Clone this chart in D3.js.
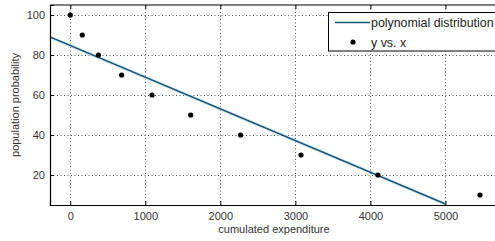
<!DOCTYPE html>
<html><head><meta charset="utf-8">
<script src="https://cdn.jsdelivr.net/npm/d3@7"></script>
<style>body{margin:0;background:#fff}svg{display:block}</style>
</head><body>
<svg id="c" width="495" height="241"></svg>
<script>
const xs = [0, 160, 375, 685, 1090, 1605, 2270, 3075, 4100, 5460];
const ys = [100, 90, 80, 70, 60, 50, 40, 30, 20, 10];
const fitX = [-270, 5000];
const fitY = [89, 5.5];
const xTicks = [0, 1000, 2000, 3000, 4000, 5000];
const yTicks = [20, 40, 60, 80, 100];
const legendLabels = ["polynomial distribution", "y vs. x"];

const svg = d3.select("#c");
const L = 50, T = 5, B = 205, R = 498;
const x = d3.scaleLinear().domain([-270, 5700]).range([L, R]);
const y = d3.scaleLinear().domain([5, 105]).range([B, T]);
const font = "Liberation Sans, Arial, sans-serif";

// grid
const g = svg.append("g");
g.selectAll("line.gx").data(xTicks).join("line")
  .attr("x1", d => Math.round(x(d)) + 0.5).attr("x2", d => Math.round(x(d)) + 0.5)
  .attr("y1", T).attr("y2", B)
  .attr("stroke", "#555").attr("stroke-width", 1).attr("stroke-dasharray", "1,2.5");
g.selectAll("line.gy").data(yTicks).join("line")
  .attr("y1", d => Math.round(y(d)) + 0.5).attr("y2", d => Math.round(y(d)) + 0.5)
  .attr("x1", L).attr("x2", R)
  .attr("stroke", "#555").attr("stroke-width", 1).attr("stroke-dasharray", "1,2.5");

// clip
svg.append("clipPath").attr("id", "clip").append("rect")
  .attr("x", L).attr("y", T).attr("width", R - L).attr("height", B - T);

const linePath = d3.line().x(d => x(d[0])).y(d => y(d[1]))(fitX.map((v, i) => [v, fitY[i]]));
// fit line
svg.append("path").attr("clip-path", "url(#clip)").attr("d", linePath)
  .attr("fill", "none").attr("stroke", "#b8e4f5").attr("stroke-width", 3.5).attr("opacity", 0.6);
svg.append("path").attr("clip-path", "url(#clip)").attr("d", linePath)
  .attr("fill", "none").attr("stroke", "#1e5478").attr("stroke-width", 1.6);

// points
svg.selectAll("circle.p").data(xs).join("circle")
  .attr("cx", d => x(d)).attr("cy", (d, i) => y(ys[i]))
  .attr("r", 2.6).attr("fill", "#000");

// axes
const xAxis = d3.axisBottom(x).tickValues(xTicks).tickSize(-4).tickPadding(7).tickFormat(d3.format("d"));
const yAxis = d3.axisLeft(y).tickValues(yTicks).tickSize(-4).tickPadding(5).tickFormat(d3.format("d"));
const ax = svg.append("g").attr("transform", `translate(0,${B})`).call(xAxis);
const ay = svg.append("g").attr("transform", `translate(${L},0)`).call(yAxis);
const axT = svg.append("g").attr("transform", `translate(0,${T})`).call(d3.axisTop(x).tickValues(xTicks).tickSize(-4).tickFormat(""));
[ax, ay, axT].forEach(a => {
  a.select(".domain").attr("stroke", "#000").attr("stroke-width", 1.2);
  a.selectAll(".tick line").attr("stroke", "#000");
  a.selectAll("text").attr("font-family", font).attr("font-size", 11).attr("fill", "#333");
});
axT.select(".domain").remove();
svg.append("line").attr("x1", L).attr("x2", R).attr("y1", T).attr("y2", T).attr("stroke", "#000").attr("stroke-width", 1.2);

// labels
svg.append("text").attr("x", 274).attr("y", 233).attr("text-anchor", "middle")
  .attr("font-family", font).attr("font-size", 11).attr("fill", "#333").text("cumulated expenditure");
svg.append("text").attr("transform", "translate(19,105) rotate(-90)").attr("text-anchor", "middle")
  .attr("font-family", font).attr("font-size", 11).attr("fill", "#333").text("population probability");

// legend
const lg = svg.append("g");
lg.append("rect").attr("x", 328.5).attr("y", 12.5).attr("width", 180).attr("height", 38.5)
  .attr("fill", "#fff").attr("stroke", "#000").attr("stroke-width", 1);
lg.append("line").attr("x1", 335).attr("x2", 370).attr("y1", 22.5).attr("y2", 22.5)
  .attr("stroke", "#1e5478").attr("stroke-width", 1.6);
lg.append("circle").attr("cx", 353).attr("cy", 42).attr("r", 2.6).attr("fill", "#000");
lg.selectAll("text").data(legendLabels).join("text")
  .attr("x", 371).attr("y", (d, i) => 27 + i * 19.5)
  .attr("font-family", font).attr("font-size", 12.4).attr("fill", "#222").text(d => d);
</script>
</body></html>
